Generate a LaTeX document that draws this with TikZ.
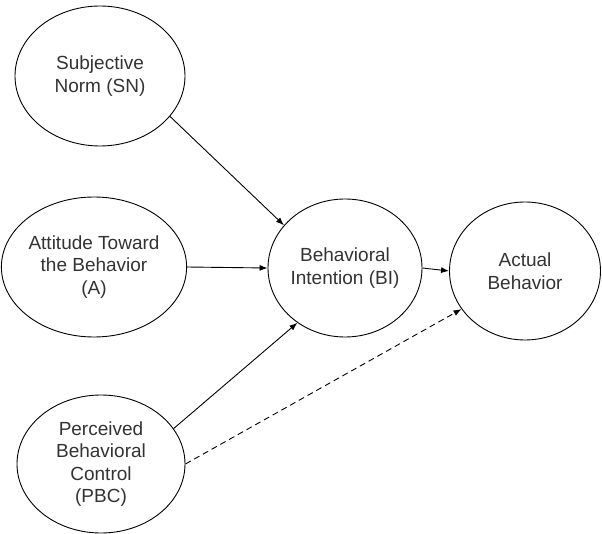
\documentclass[tikz,border=0pt]{standalone}
\usepackage{fontspec}
\setmainfont{Liberation Sans}
\usetikzlibrary{shapes.geometric,arrows.meta}
\begin{document}
\begin{tikzpicture}[x=1pt,y=-1pt,
  oval/.style={ellipse,draw,line width=0.9pt,inner sep=0pt,align=center,
    font=\fontsize{19}{22.5}\selectfont,text=black!80},
  conn/.style={line width=0.9pt,-{Latex[length=8pt,width=6pt]}},
  dconn/.style={conn,dash pattern=on 6pt off 4pt}]
\useasboundingbox (0,0) rectangle (602,534);
\node[oval,minimum width=170pt,minimum height=140pt] (SN) at (100,76) {Subjective\\Norm (SN)};
\node[oval,minimum width=156pt,minimum height=140pt] (A) at (94,267) {Attitude Toward\\the Behavior\\(A)};
\node[oval,minimum width=168pt,minimum height=138pt] (PBC) at (101,464) {Perceived\\Behavioral\\Control\\(PBC)};
\node[oval,minimum width=154pt,minimum height=138pt] (BI) at (345,268) {Behavioral\\Intention (BI)};
\node[oval,minimum width=151pt,minimum height=138pt] (AB) at (525,271) {Actual\\Behavior};
\draw[conn] (SN.-30) -- (BI.145);
\draw[conn] (A.east) -- (BI.west);
\draw[conn] (PBC.26) -- (BI.-131);
\draw[conn] (BI.east) -- (AB.west);
\draw[dconn] (PBC.0) -- (AB.211);
\end{tikzpicture}
\end{document}
